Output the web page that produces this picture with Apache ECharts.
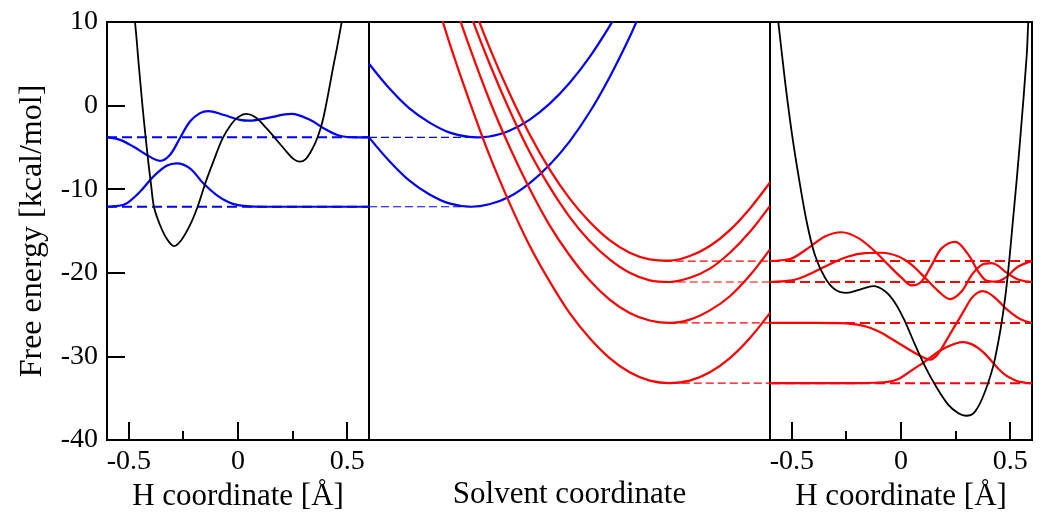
<!DOCTYPE html>
<html>
<head>
<meta charset="utf-8">
<script src="https://cdn.jsdelivr.net/npm/echarts@6/dist/echarts.min.js"></script>
<style>
  html, body { margin: 0; padding: 0; background: #fff; }
  #chart { width: 1050px; height: 523px; }
</style>
</head>
<body>
<div id="chart"></div>
<script>
// energy levels (kcal/mol)
const blueLevels = [-3.8, -12.1];
const redLevels = [-18.6, -21.1, -26.0, -33.2];
// solvent-coordinate position of each parabola minimum
const blueMinS = [0.27, 0.255];
const redMinS = [0.735, 0.74, 0.745, 0.75];

// left panel: H potential (reactant side)
const leftPotX = [-0.50, -0.472, -0.455, -0.438, -0.425, -0.411, -0.398, -0.385, -0.36, -0.327, -0.293, -0.26, -0.22, -0.185, -0.15, -0.113, -0.07, -0.03, 0.0, 0.039, 0.08, 0.13, 0.18, 0.222, 0.255, 0.283, 0.31, 0.344, 0.367, 0.387, 0.405, 0.421, 0.438, 0.454, 0.477, 0.50];
const leftPotY = [15.5, 10.0, 5.0, 0.1, -3.3, -6.7, -9.5, -12.1, -14.1, -15.9, -16.8, -16.1, -14.3, -12.1, -9.3, -6.7, -3.9, -2.2, -1.4, -1.0, -1.4, -2.7, -4.2, -5.5, -6.4, -6.7, -6.4, -5.0, -3.6, -1.9, 0.3, 2.5, 4.9, 7.0, 10.3, 13.6];

// left panel: wavefunctions
const leftWave0X = [-0.6, -0.55, -0.51, -0.449, -0.388, -0.327, -0.281, -0.22, -0.159, -0.098, -0.04, 0.0, 0.054, 0.15, 0.3, 0.45, 0.6];
const leftWave0Y = [-12.1, -12.0, -11.7, -10.3, -8.5, -7.2, -6.9, -7.5, -9.3, -10.7, -11.6, -11.9, -12.05, -12.1, -12.1, -12.1, -12.1];
const leftWave1X = [-0.6, -0.54, -0.48, -0.418, -0.357, -0.312, -0.266, -0.22, -0.174, -0.136, -0.068, 0.009, 0.054, 0.131, 0.245, 0.329, 0.405, 0.466, 0.543, 0.6];
const leftWave1Y = [-3.8, -4.1, -4.9, -5.9, -6.6, -5.9, -3.9, -1.9, -0.9, -0.65, -1.1, -1.7, -1.8, -1.5, -1.0, -1.7, -2.9, -3.6, -3.8, -3.8];

// middle panel: solvent parabolas
const blueS1 = [0, 0.05, 0.1, 0.15, 0.2, 0.25, 0.27, 0.3, 0.35, 0.4, 0.45, 0.5, 0.55, 0.6, 0.63];
const blueE1 = [5.0, 2.1, -0.3, -2.0, -3.2, -3.75, -3.8, -3.7, -3.0, -1.7, 0.2, 2.7, 5.8, 9.5, 12.0];
const blueS0 = [0, 0.05, 0.1, 0.15, 0.2, 0.255, 0.3, 0.35, 0.4, 0.45, 0.5, 0.55, 0.6, 0.65, 0.68];
const blueE0 = [-3.8, -6.6, -8.95, -10.6, -11.7, -12.1, -11.8, -10.9, -9.3, -7.1, -4.3, -0.8, 3.4, 8.2, 11.5];
const redS = [0.15, 0.2, 0.25, 0.3, 0.35, 0.4, 0.45, 0.5, 0.55, 0.6, 0.65, 0.7, 0.75, 0.8, 0.85, 0.9, 0.95, 1.0];
const redE1 = [27.6, 20.0, 13.2, 7.0, 1.5, -3.4, -7.6, -11.1, -13.9, -16.1, -17.6, -18.4, -18.55, -18.0, -16.8, -14.9, -12.3, -9.2];
const redE2 = [25.9, 18.3, 11.3, 5.1, -0.5, -5.5, -9.7, -13.3, -16.2, -18.4, -20.0, -20.9, -21.1, -20.6, -19.5, -17.6, -15.1, -12.0];
const redE3 = [21.8, 14.1, 7.1, 0.7, -4.9, -9.9, -14.3, -17.9, -20.9, -23.2, -24.8, -25.7, -26.0, -25.6, -24.5, -22.8, -20.3, -17.2];
const redE4 = [15.4, 7.6, 0.6, -5.9, -11.6, -16.7, -21.0, -24.8, -27.8, -30.2, -31.9, -32.9, -33.2, -32.9, -31.9, -30.2, -27.8, -24.8];

// right panel: H potential (product side)
const rightPotX = [-0.58, -0.562, -0.531, -0.501, -0.470, -0.432, -0.394, -0.348, -0.302, -0.249, -0.188, -0.127, -0.073, -0.027, 0.018, 0.064, 0.110, 0.156, 0.217, 0.263, 0.298, 0.339, 0.385, 0.431, 0.477, 0.515, 0.545, 0.576, 0.583, 0.595];
const rightPotY = [14, 10, 2.9, -3.1, -8.3, -13.9, -17.9, -20.6, -22.0, -22.4, -22.0, -21.6, -22.2, -23.6, -25.8, -28.6, -31.2, -33.4, -35.8, -36.8, -37.1, -36.6, -34.2, -30.2, -23.0, -13.1, -4.3, 6.1, 10.0, 14];

// right panel: wavefunctions
const rightWaveAX = [-0.6, -0.4, -0.2, -0.119, -0.06, -0.012, 0.025, 0.064, 0.10, 0.141, 0.18, 0.217, 0.25, 0.286, 0.32, 0.354, 0.385, 0.416, 0.447, 0.477, 0.51, 0.537, 0.57, 0.6];
const rightWaveAY = [-33.2, -33.2, -33.2, -33.15, -33.05, -32.7, -32.1, -31.4, -30.8, -30.0, -29.3, -28.8, -28.45, -28.3, -28.5, -29.0, -29.7, -30.6, -31.5, -32.2, -32.7, -33.0, -33.15, -33.2];
const rightWaveBX = [-0.6, -0.4, -0.25, -0.2, -0.165, -0.12, -0.088, -0.05, -0.012, 0.025, 0.064, 0.10, 0.13, 0.16, 0.187, 0.21, 0.232, 0.255, 0.278, 0.30, 0.324, 0.35, 0.373, 0.40, 0.431, 0.455, 0.477, 0.51, 0.537, 0.57, 0.6];
const rightWaveBY = [-26.0, -26.0, -26.05, -26.2, -26.4, -26.8, -27.2, -27.8, -28.4, -29.0, -29.6, -30.1, -30.4, -30.0, -29.0, -28.0, -27.0, -26.0, -25.0, -24.0, -23.0, -22.4, -22.2, -22.4, -23.0, -23.6, -24.2, -24.9, -25.4, -25.8, -26.0];
const rightWaveCX = [-0.6, -0.501, -0.45, -0.394, -0.317, -0.241, -0.165, -0.088, -0.012, 0.049, 0.110, 0.171, 0.225, 0.278, 0.324, 0.370, 0.416, 0.447, 0.477, 0.537, 0.6];
const rightWaveCY = [-21.1, -20.9, -20.5, -19.85, -18.85, -18.05, -17.65, -17.6, -18.05, -19.05, -20.6, -22.2, -23.15, -22.2, -20.25, -19.05, -18.85, -19.2, -19.85, -20.8, -21.1];
const rightWaveDX = [-0.6, -0.55, -0.501, -0.425, -0.348, -0.272, -0.195, -0.119, -0.058, 0.003, 0.049, 0.095, 0.141, 0.187, 0.248, 0.309, 0.354, 0.393, 0.431, 0.477, 0.537, 0.6];
const rightWaveDY = [-18.6, -18.5, -18.3, -17.05, -15.65, -15.15, -15.85, -17.45, -19.05, -20.6, -21.5, -21.0, -19.05, -17.05, -16.3, -17.85, -19.85, -20.95, -21.05, -20.6, -19.25, -18.6];

// H-coordinate ticks
const hTicks = [-0.5, 0, 0.5];
const hMinorTicks = [-0.25, 0.25];

const FONT = 'Liberation Serif';
const BLUE = '#0000ff', RED = '#ff0000', BLACK = '#000000';

// panel -> [xAxisIndex, yAxisIndex]
const PANEL = { left: [0, 0], mid: [1, 1], right: [2, 2] };

function pts(xs, ys) { return xs.map((x, i) => [x, ys[i]]); }

function curve(panel, data, color, width) {
  return {
    type: 'line', xAxisIndex: PANEL[panel][0], yAxisIndex: PANEL[panel][1],
    data: data, smooth: 0.35, symbol: 'none', clip: true,
    lineStyle: { color: color, width: width }
  };
}
function dashed(panel, x0, x1, y, color, width, dash) {
  const s = curve(panel, [[x0, y], [x1, y]], color, width);
  s.smooth = false;
  s.lineStyle.type = dash;
  return s;
}

const series = [];
// left
blueLevels.forEach(v => series.push(dashed('left', -0.6, 0.6, v, BLUE, 2, [10, 5])));
series.push(curve('left', pts(leftWave1X, leftWave1Y), BLUE, 2.2));
series.push(curve('left', pts(leftWave0X, leftWave0Y), BLUE, 2.2));
series.push(curve('left', pts(leftPotX, leftPotY), BLACK, 1.8));
// middle
blueLevels.forEach((v, i) => series.push(dashed('mid', 0, blueMinS[i], v, BLUE, 1.2, [8, 4])));
redLevels.forEach((v, i) => series.push(dashed('mid', redMinS[i], 1, v, RED, 1.2, [8, 4])));
series.push(curve('mid', pts(blueS1, blueE1), BLUE, 2.2));
series.push(curve('mid', pts(blueS0, blueE0), BLUE, 2.2));
[redE1, redE2, redE3, redE4].forEach(e => series.push(curve('mid', pts(redS, e), RED, 2.2)));
// right
redLevels.forEach(v => series.push(dashed('right', -0.6, 0.6, v, RED, 2, [10, 5])));
series.push(curve('right', pts(rightWaveAX, rightWaveAY), RED, 2.2));
series.push(curve('right', pts(rightWaveBX, rightWaveBY), RED, 2.2));
series.push(curve('right', pts(rightWaveCX, rightWaveCY), RED, 2.2));
series.push(curve('right', pts(rightWaveDX, rightWaveDY), RED, 2.2));
series.push(curve('right', pts(rightPotX, rightPotY), BLACK, 1.8));

const tickText = { fontFamily: FONT, fontSize: 28, color: '#000' };
const nameText = { fontFamily: FONT, fontSize: 31, color: '#000' };
function lineOn() { return { show: true, onZero: false, lineStyle: { color: '#000', width: 2 } }; }

function hAxis(grid) {
  return {
    gridIndex: grid, type: 'value', min: -0.6, max: 0.6, position: 'bottom',
    name: 'H coordinate [Å]', nameLocation: 'middle', nameGap: 39,
    nameTextStyle: nameText,
    axisLine: lineOn(),
    axisTick: { show: true, inside: true, length: 18, customValues: hTicks, lineStyle: { color: '#000', width: 2 } },
    axisLabel: Object.assign({ show: true, margin: 8, customValues: hTicks }, tickText),
    splitLine: { show: false }
  };
}

const chart = echarts.init(document.getElementById('chart'), null, { renderer: 'canvas' });
chart.setOption({
  animation: false,
  backgroundColor: '#fff',
  grid: [
    { left: 107, top: 22, width: 262, height: 418, show: true, borderColor: '#000', borderWidth: 2 },
    { left: 369, top: 22, width: 401, height: 418, show: true, borderColor: '#000', borderWidth: 2 },
    { left: 770, top: 22, width: 262, height: 418, show: true, borderColor: '#000', borderWidth: 2 }
  ],
  xAxis: [
    hAxis(0),
    {
      gridIndex: 1, type: 'value', min: 0, max: 1, position: 'bottom',
      name: 'Solvent coordinate', nameLocation: 'middle', nameGap: 39,
      nameTextStyle: nameText,
      axisLine: lineOn(),
      axisTick: { show: false }, axisLabel: { show: false }, splitLine: { show: false }
    },
    hAxis(2)
  ],
  yAxis: [
    {
      gridIndex: 0, type: 'value', min: -40, max: 10, interval: 10,
      name: 'Free energy [kcal/mol]', nameLocation: 'middle', nameGap: 58,
      nameTextStyle: Object.assign({}, nameText, { fontSize: 32 }),
      axisLine: lineOn(),
      axisTick: { show: true, inside: true, length: 18, lineStyle: { color: '#000', width: 2 } },
      axisLabel: Object.assign({ show: true, margin: 9, showMinLabel: true, showMaxLabel: true }, tickText),
      splitLine: { show: false }
    },
    { gridIndex: 1, type: 'value', min: -40, max: 10, show: false, splitLine: { show: false } },
    { gridIndex: 2, type: 'value', min: -40, max: 10, show: false, splitLine: { show: false } }
  ],
  series: series
});

// bottom tick marks of the H panels, placed through each panel's own x scale
function tickMarks() {
  const marks = [];
  [0, 2].forEach(ax => {
    const yBase = chart.convertToPixel({ yAxisIndex: ax === 0 ? 0 : 2 }, -40);
    [[hTicks, 18], [hMinorTicks, 9]].forEach(([vals, len]) => {
      vals.forEach(v => {
        const x = Math.round(chart.convertToPixel({ xAxisIndex: ax }, v));
        marks.push({
          type: 'line', z: 50, silent: true,
          shape: { x1: x, y1: yBase, x2: x, y2: yBase - len },
          style: { stroke: '#000', lineWidth: 2 }
        });
      });
    });
  });
  return marks;
}
chart.setOption({ graphic: tickMarks() });
</script>
</body>
</html>
